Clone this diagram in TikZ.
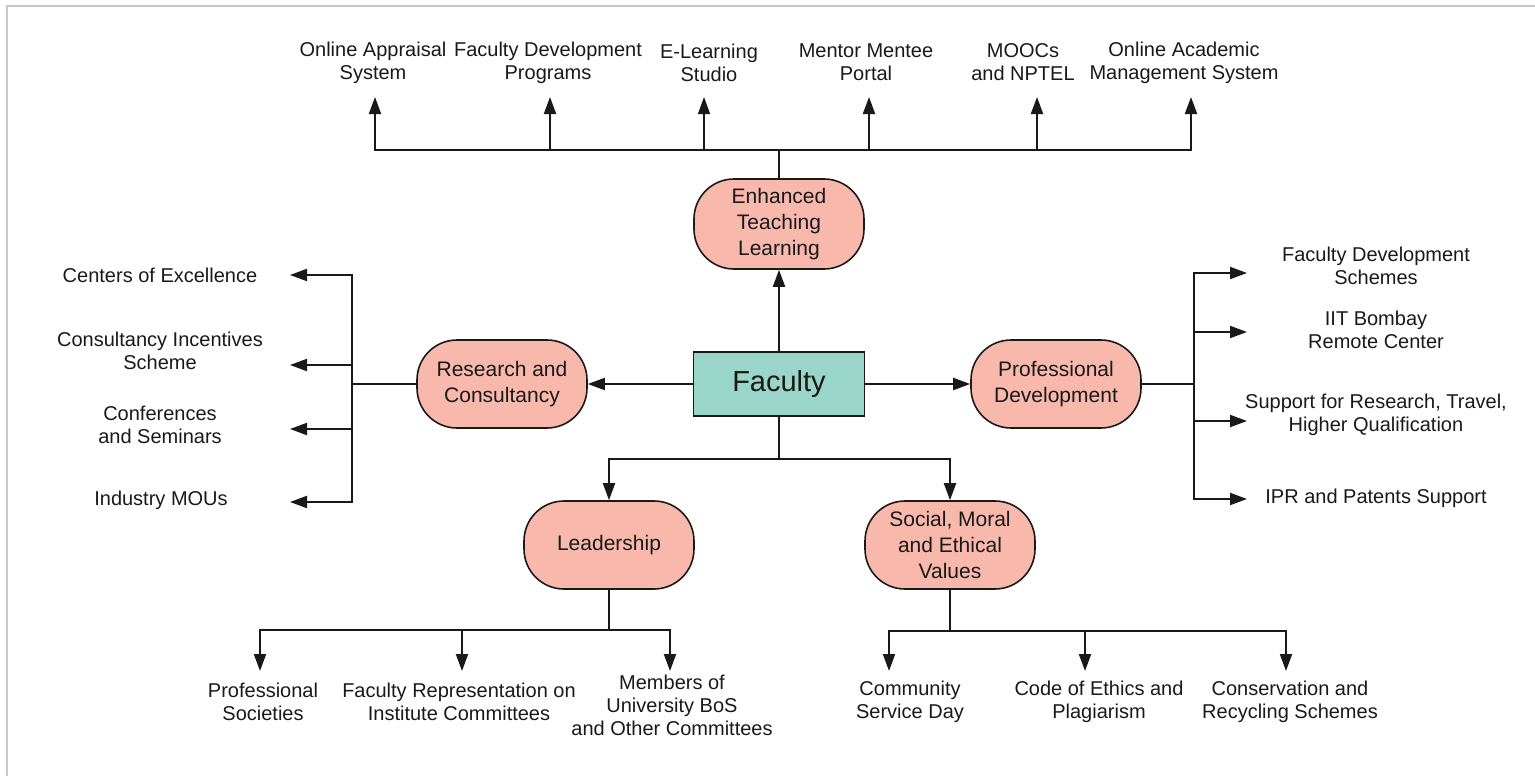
\documentclass[tikz,border=0pt]{standalone}
\usepackage{fontspec}
\setmainfont{Liberation Sans}
\usetikzlibrary{arrows.meta}
\definecolor{salmon}{RGB}{248,184,172}
\definecolor{tealfill}{RGB}{153,213,201}
\definecolor{ink}{RGB}{25,25,25}
\definecolor{framegray}{RGB}{200,200,200}
\begin{document}
\begin{tikzpicture}[x=1pt,y=-1pt,
  cat/.style={draw=ink, line width=1.6pt, fill=salmon, rounded corners=40pt,
    minimum width=170pt, minimum height=88pt, align=center,
    font=\fontsize{21}{26}\selectfont, text=ink},
  fac/.style={draw=ink, line width=1.6pt, fill=tealfill, minimum width=171pt,
    minimum height=64pt, font=\fontsize{29}{32}\selectfont, text=ink},
  txt/.style={align=center, font=\fontsize{20}{23}\selectfont, inner sep=0pt, text=ink},
  conn/.style={line width=2pt, draw=ink},
  arr/.style={conn, -{Triangle[length=17pt,width=12pt]}},
  barr/.style={conn, {Triangle[length=17pt,width=12pt]}-{Triangle[length=17pt,width=12pt]}}]
\useasboundingbox (0,0) rectangle (1535,776);
\draw[framegray, line width=2pt] (7,776) -- (7,6) -- (1535,6);

% main nodes
\node[fac] (fac) at (779,384) {Faculty};
\node[cat, minimum height=90pt] (etl) at (779,224) {Enhanced\\Teaching\\Learning};
\node[cat] (rc) at (502,384) {Research and\\Consultancy};
\node[cat] (pd) at (1056,384) {Professional\\Development};
\node[cat] (lead) at (609,545) {Leadership};
\node[cat] (smev) at (950,545) {Social, Moral\\and Ethical\\Values};

% top texts
\node[txt] (t1) at (373,62.5) {Online Appraisal\\System};
\node[txt] (t2) at (548,62.5) {Faculty Development\\Programs};
\node[txt] (t3) at (709,62.5) {E-Learning\\Studio};
\node[txt] (t4) at (866,62.5) {Mentor Mentee\\Portal};
\node[txt] (t5) at (1023,62.5) {MOOCs\\and NPTEL};
\node[txt] (t6) at (1184,62.5) {Online Academic\\Management System};

% left texts
\node[txt] (l1) at (160,275) {Centers of Excellence};
\node[txt] (l2) at (160,350.5) {Consultancy Incentives\\Scheme};
\node[txt] (l3) at (160,424.5) {Conferences\\and Seminars};
\node[txt] (l4) at (161,500) {Industry MOUs};

% right texts
\node[txt] (r1) at (1376,266) {Faculty Development\\Schemes};
\node[txt] (r2) at (1376,330) {IIT Bombay\\Remote Center};
\node[txt] (r3) at (1376,415) {Support for Research, Travel,\\Higher Qualification};
\node[txt] (r4) at (1376,498) {IPR and Patents Support};

% bottom texts
\node[txt] (b1) at (263,702) {Professional\\Societies};
\node[txt] (b2) at (459,702) {Faculty Representation on\\Institute Committees};
\node[txt] (b3) at (672,705) {Members of\\University BoS\\and Other Committees};
\node[txt] (b4) at (910,702) {Community\\Service Day};
\node[txt] (b5) at (1099,702) {Code of Ethics and\\Plagiarism};
\node[txt] (b6) at (1290,702) {Conservation and\\Recycling Schemes};

% centre connectors
\draw[arr] (fac) -- (etl);
\draw[arr] (fac) -- (rc);
\draw[arr] (fac) -- (pd);
\coordinate (fb) at (779,459);
\draw[conn] (fac.south) -- (fb);
\draw[arr] (fb) -| (lead.north);
\draw[arr] (fb) -| (smev.north);

% top bus
\foreach \i/\x in {1/375,2/550,3/704,4/869,5/1037,6/1191} {
  \coordinate (tb\i) at (\x,150);
  \coordinate (tt\i) at (\x,97);
}
\coordinate (tb) at (779,150);
\draw[conn] (etl.north) -- (tb);
\draw[barr] (tt1) -- (tb1) -- (tb6) -- (tt6);
\draw[arr] (tb2) -- (tt2);
\draw[arr, line width=1.2pt] (tb3) -- (tt3);
\draw[arr] (tb4) -- (tt4);
\draw[arr] (tb5) -- (tt5);

% left bus
\foreach \i/\y in {1/275,2/365,3/429,4/502} {
  \coordinate (lb\i) at (352,\y);
  \coordinate (la\i) at (290,\y);
}
\coordinate (lm) at (352,384);
\draw[conn] (rc.west) -- (lm);
\draw[barr] (la1) -- (lb1) -- (lb4) -- (la4);
\draw[arr] (lb2) -- (la2);
\draw[arr] (lb3) -- (la3);

% right bus
\foreach \i/\y in {1/273,2/332,3/421,4/499} {
  \coordinate (rb\i) at (1194,\y);
  \coordinate (ra\i) at (1247,\y);
}
\coordinate (rm) at (1194,384);
\draw[conn] (pd.east) -- (rm);
\draw[barr] (ra1) -- (rb1) -- (rb4) -- (ra4);
\draw[arr] (rb2) -- (ra2);
\draw[arr] (rb3) -- (ra3);

% bottom left bus
\coordinate (lbm) at (609,630);
\foreach \i/\x in {1/260,2/462,3/670} {
  \coordinate (bb\i) at (\x,630);
  \coordinate (ba\i) at (\x,671);
}
\draw[conn] (lead.south) -- (lbm);
\draw[barr] (ba1) -- (bb1) -- (bb3) -- (ba3);
\draw[arr] (bb2) -- (ba2);

% bottom right bus
\coordinate (rbm) at (950,631);
\foreach \i/\x in {4/889,5/1085,6/1286} {
  \coordinate (bb\i) at (\x,631);
  \coordinate (ba\i) at (\x,671);
}
\draw[conn] (smev.south) -- (rbm);
\draw[barr] (ba4) -- (bb4) -- (bb6) -- (ba6);
\draw[arr] (bb5) -- (ba5);
\end{tikzpicture}
\end{document}
